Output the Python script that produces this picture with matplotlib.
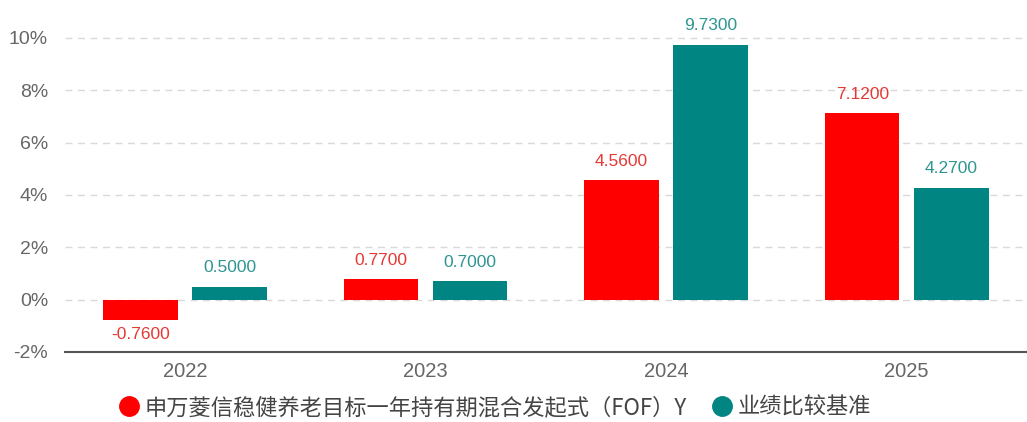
import matplotlib.pyplot as plt
import numpy as np

plt.rcParams['font.family'] = ['Liberation Sans', 'Noto Sans CJK SC', 'DejaVu Sans']

years = ['2022', '2023', '2024', '2025']
fund = [-0.76, 0.77, 4.56, 7.12]
bench = [0.50, 0.70, 9.73, 4.27]
fund_name = '申万菱信稳健养老目标一年持有期混合发起式（FOF）Y'
bench_name = '业绩比较基准'

red = '#ff0000'
teal = '#008583'

fig = plt.figure(figsize=(10.27, 4.22), dpi=100)
ax = fig.add_axes([0.063, 0.166, 0.937, 0.806])

x = np.arange(len(years))
w = 0.31
off = 0.185
ax.bar(x - off, fund, w, color=red, zorder=3)
ax.bar(x + off, bench, w, color=teal, zorder=3)

for xi, v in zip(x, fund):
    if v >= 0:
        ax.text(xi - off, v + 0.45, f'{v:.4f}', ha='center', va='bottom', color='#e53935', fontsize=12.5)
    else:
        ax.text(xi - off, v - 0.3, f'{v:.4f}', ha='center', va='top', color='#e53935', fontsize=12.5)
for xi, v in zip(x, bench):
    ax.text(xi + off, v + 0.45, f'{v:.4f}', ha='center', va='bottom', color='#2e9590', fontsize=12.5)

ax.set_xlim(-0.5, 3.5)
ax.set_ylim(-2, 11)
ax.set_yticks(range(-2, 11, 2))
ax.set_yticklabels([f'{t}%' for t in range(-2, 11, 2)])
ax.set_xticks(x)
ax.set_xticklabels(years)
ax.tick_params(axis='y', length=0, labelsize=14, labelcolor='#666666', pad=12)
ax.tick_params(axis='x', length=0, labelsize=14.5, labelcolor='#666666', pad=7)

for t in range(0, 11, 2):
    ax.axhline(t, color='#d9d9d9', lw=1, ls=(0, (5, 4)), zorder=1)

for s in ['top', 'right', 'left']:
    ax.spines[s].set_visible(False)
ax.spines['bottom'].set_color('#555555')
ax.spines['bottom'].set_linewidth(1.5)

h1 = plt.Line2D([], [], marker='o', ls='', color=red, markersize=14)
h2 = plt.Line2D([], [], marker='o', ls='', color=teal, markersize=14)
fig.legend([h1, h2], [fund_name, bench_name], loc='lower center',
           bbox_to_anchor=(0.482, -0.04), ncol=2, frameon=False,
           prop={'family': ['Noto Sans CJK SC', 'DejaVu Sans'], 'size': 16},
           handlelength=0.9, handletextpad=0.25, columnspacing=1.1,
           labelcolor='#444444')

fig.savefig('out.png', dpi=100)
